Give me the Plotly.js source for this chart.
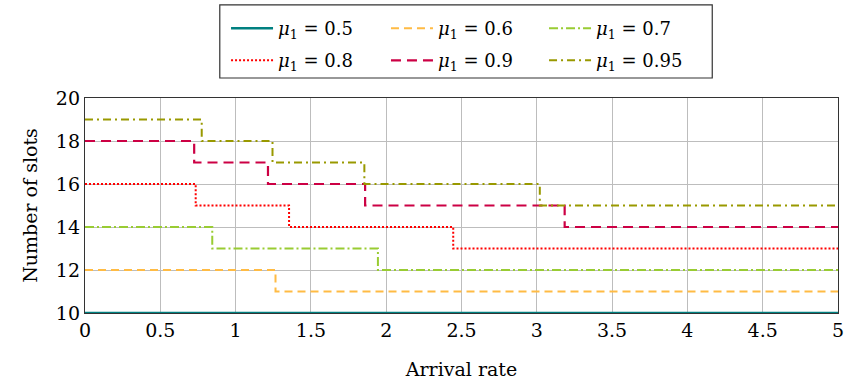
<!DOCTYPE html>
<html><head><meta charset="utf-8">
<script src="https://cdn.plot.ly/plotly-3.0.1.min.js"></script>
<style>html,body{margin:0;padding:0;background:#fff}</style>
</head><body><div id="chart" style="width:849px;height:380px"></div>
<script>
const mu = ["0.5","0.6","0.7","0.8","0.9","0.95"];
const x05 = [0, 5];             const y05 = [10, 10];
const x06 = [0, 1.265, 5];      const y06 = [12, 11, 11];
const x07 = [0, 0.845, 1.945, 5]; const y07 = [14, 13, 12, 12];
const x08 = [0, 0.735, 1.355, 2.445, 5]; const y08 = [16, 15, 14, 13, 13];
const x09 = [0, 0.725, 1.215, 1.86, 3.185, 5]; const y09 = [18, 17, 16, 15, 14, 14];
const x095 = [0, 0.775, 1.245, 1.855, 3.02, 5]; const y095 = [19, 18, 17, 16, 15, 15];
const xTicks = [0,0.5,1,1.5,2,2.5,3,3.5,4,4.5,5];
const xTickText = ["0","0.5","1","1.5","2","2.5","3","3.5","4","4.5","5"];
const yTicks = [10,12,14,16,18,20];

const xs = [x05,x06,x07,x08,x09,x095];
const ys = [y05,y06,y07,y08,y09,y095];
const colors = ["#008080","#FFBB44","#99CC33","#FF0000","#CC0044","#999900"];
const dashes = ["solid","8px,5px","9px,3px,2px,3px","2px,2px","10px,6px","8px,4px,2px,4px"];
const widths = [2.6,2,2,2,2.2,2];
const legendIds = ["legend","legend2","legend3","legend4","legend5","legend6"];

const traces = mu.map((m,i)=>({
  x: xs[i], y: ys[i], type:"scatter", mode:"lines",
  line:{color:colors[i], width:widths[i], dash:dashes[i], shape:"hv"},
  name:"<i>μ</i><sub>1</sub> = " + m,
  legend: legendIds[i], showlegend:true, hoverinfo:"skip"
}));

const FAM = "DejaVu Serif";
const mk = (s)=>({family:FAM, size:s, color:"#000"});
const colX = [0.1873, 0.3997, 0.6096];
const rowY = [1.409, 1.260];
const layout = {
  width:849, height:380,
  margin:{l:85, r:11, t:98, b:67, autoexpand:false},
  paper_bgcolor:"#fff", plot_bgcolor:"#fff",
  font: mk(18),
  xaxis:{range:[0,5], tickvals:xTicks, ticktext:xTickText, showgrid:true, gridcolor:"#bdbdbd", gridwidth:1,
    zeroline:false, showline:true, linecolor:"#333", linewidth:1.2, mirror:true, ticks:"",
    tickfont:mk(19),
    title:{text:"Arrival rate", font:mk(19)}},
  yaxis:{range:[10,20], tickvals:yTicks, showgrid:true, gridcolor:"#bdbdbd", gridwidth:1,
    zeroline:false, showline:true, linecolor:"#333", linewidth:1.2, mirror:true, ticks:"",
    tickfont:mk(19),
    title:{text:"Number of slots", font:mk(19)}},
  shapes:[{type:"rect", xref:"paper", yref:"paper", x0:0.179, x1:0.833, y0:1.093, y1:1.433,
    line:{color:"#333", width:1.2}, fillcolor:"rgba(0,0,0,0)", layer:"above"}],
  showlegend:true
};
legendIds.forEach((id,i)=>{
  const col = i%3, row = Math.floor(i/3);
  layout[id] = {x:colX[col], y:rowY[row], xanchor:"left", yanchor:"top", itemwidth:42,
    bgcolor:"rgba(0,0,0,0)", borderwidth:0, font:mk(18)};
});
Plotly.newPlot("chart", traces, layout, {displayModeBar:false, staticPlot:true});
</script></body></html>
